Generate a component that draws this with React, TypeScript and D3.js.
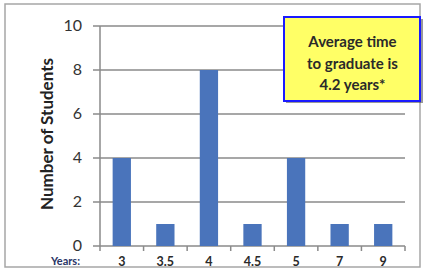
import React from "react";
import * as d3 from "d3";

const categories = ["3", "3.5", "4", "4.5", "5", "7", "9"];
const students = [4, 1, 8, 1, 4, 1, 1];
const yTicks = [0, 2, 4, 6, 8, 10];
const noteLines = ["Average time", "to graduate is", "4.2 years*"];

export default function App() {
  const W = 423, H = 269;
  const left = 100, right = 405, top = 26, bottom = 246;
  const x = d3.scaleBand<string>().domain(categories).range([left, right]).paddingInner(0.58).paddingOuter(0.29);
  const xb = d3.scaleBand<string>().domain(categories).range([left, right]);
  const y = d3.scaleLinear().domain([0, 10]).range([bottom, top]);
  const font = "Lato, 'Open Sans', sans-serif";
  const grid = "#8a8a8a";
  return (
    <svg width={W} height={H} style={{ position: "absolute", left: 0, top: 0 }} fontFamily={font}>
      <rect x={0} y={0} width={W} height={H} fill="#fff" />
      <rect x={5} y={4} width={415} height={263} fill="#fff" stroke="#a6a6a6" strokeWidth={1.5} />
      {yTicks.map((t) => (
        <g key={t}>
          <line x1={93} x2={right} y1={y(t)} y2={y(t)} stroke={grid} strokeWidth={1.5} />
          <text x={82} y={y(t)} dy="0.33em" textAnchor="end" fontSize={16} fill="#333">{t}</text>
        </g>
      ))}
      <line x1={left} x2={left} y1={top} y2={bottom} stroke={grid} strokeWidth={1.5} />
      {categories.map((c, i) => (
        <rect key={c} x={x(c)} y={y(students[i])} width={x.bandwidth()} height={bottom - y(students[i])} fill="#4a74bb" />
      ))}
      {categories.map((c) => (
        <line key={"t" + c} x1={(xb(c) as number) + xb.bandwidth()} x2={(xb(c) as number) + xb.bandwidth()} y1={bottom} y2={bottom + 5} stroke={grid} strokeWidth={1.5} />
      ))}
      <line x1={left} x2={left} y1={bottom} y2={bottom + 5} stroke={grid} strokeWidth={1.5} />
      {categories.map((c) => (
        <text key={"l" + c} x={(xb(c) as number) + xb.bandwidth() / 2} y={261} dy="0.36em" textAnchor="middle" fontSize={12.5} fontWeight="bold" fill="#2a2a2a">{c}</text>
      ))}
      <text x={80} y={261.5} dy="0.36em" textAnchor="end" fontSize={11} fontWeight="bold" fill="#2a3566">Years:</text>
      <text transform={`translate(47,134) rotate(-90)`} textAnchor="middle" dy="0.36em" fontSize={17} fontWeight="bold" fill="#222">Number of Students</text>
      <rect x={286} y={19} width={137} height={84} fill="#333" opacity={0.5} />
      <rect x={284} y={17} width={136} height={84} fill="#ffff66" stroke="#1a1aff" strokeWidth={2} />
      {noteLines.map((l, i) => (
        <text key={l} x={352.5} y={42 + i * 21.5} dy="0.36em" textAnchor="middle" fontSize={15} fontWeight="bold" fill="#2a2a2a">{l}</text>
      ))}
    </svg>
  );
}
